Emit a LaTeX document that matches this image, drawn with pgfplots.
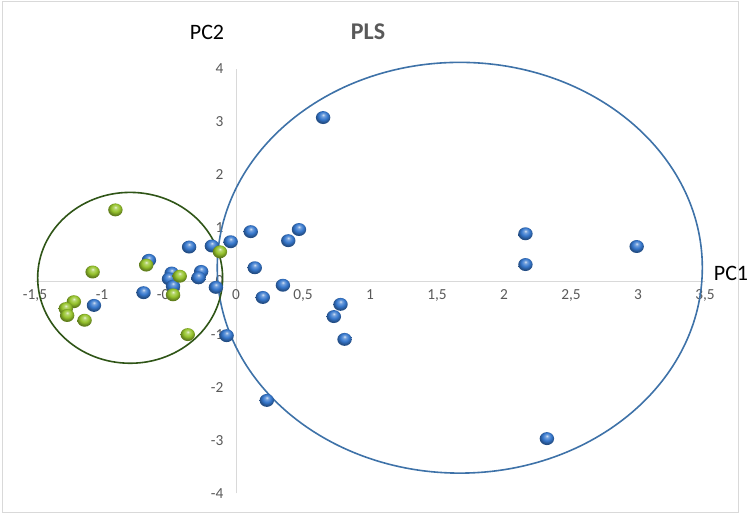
\documentclass[border=0pt]{standalone}
\usepackage{fontspec}
\setmainfont{Carlito}
\usepackage{pgfplots}
\pgfplotsset{compat=1.18}
\definecolor{axisgray}{RGB}{217,217,217}
\definecolor{labelgray}{RGB}{89,89,89}
\definecolor{ballblue}{RGB}{55,120,205}
\definecolor{ballgreen}{RGB}{150,195,45}
\definecolor{ellblue}{RGB}{62,114,168}
\definecolor{ellgreen}{RGB}{47,85,23}
\pgfdeclareradialshading{bshade}{\pgfqpoint{0bp}{11bp}}{color(0bp)=(ballblue!20!white); color(6bp)=(ballblue!70!white); color(15bp)=(ballblue); color(25bp)=(ballblue!65!black); color(50bp)=(ballblue!65!black)}
\pgfdeclareradialshading{gshade}{\pgfqpoint{0bp}{11bp}}{color(0bp)=(ballgreen!20!white); color(6bp)=(ballgreen!70!white); color(15bp)=(ballgreen); color(25bp)=(ballgreen!65!black); color(50bp)=(ballgreen!65!black)}
\pgfdeclareplotmark{bball}{\pgfpathcircle{\pgfpointorigin}{\pgfplotmarksize}\pgfshadepath{bshade}{0}\pgfusepath{discard}}
\pgfdeclareplotmark{gball}{\pgfpathcircle{\pgfpointorigin}{\pgfplotmarksize}\pgfshadepath{gshade}{0}\pgfusepath{discard}}
\begin{document}
\begin{tikzpicture}
\begin{axis}[
  at={(26.25pt,16.3pt)}, anchor=south west,
  x=100.5pt, y=39.8pt,
  xmin=-1.5, xmax=3.5, ymin=-4, ymax=4,
  axis lines=middle,
  axis line style={-, draw=axisgray, line width=0.75pt},
  xtick={-1.5,-1,-0.5,0,0.5,1,1.5,2,2.5,3,3.5},
  ytick={-4,-3,-2,-1,0,1,2,3,4},
  major tick length=0pt,
  hide obscured x ticks=false, hide obscured y ticks=false,
  tick label style={font=\fontsize{11.5}{13}\selectfont, text=labelgray},
  xticklabel style={yshift=-3pt},
  yticklabel style={xshift=-6pt},
  /pgf/number format/use comma,
  /pgf/number format/assume math mode=true,
  clip=false,
]
\addplot[only marks, mark=bball, mark size=5.4pt, mark options={yscale=0.9}] coordinates {
(0.65,3.08) (2.16,0.89) (2.99,0.65) (2.16,0.31) (2.32,-2.97)
(0.11,0.93) (0.47,0.97) (0.39,0.76) (-0.04,0.74) (0.14,0.25)
(0.20,-0.31) (0.35,-0.08) (0.78,-0.44) (0.73,-0.67) (0.81,-1.10)
(-0.07,-1.03) (0.23,-2.25) (-0.35,0.64) (-0.18,0.66) (-0.65,0.39)
(-0.48,0.15) (-0.50,0.04) (-0.47,-0.10) (-0.26,0.18) (-0.28,0.06)
(-0.15,-0.12) (-0.69,-0.22) (-1.06,-0.46)
};
\addplot[only marks, mark=gball, mark size=5.4pt, mark options={yscale=0.9}] coordinates {
(-0.90,1.34) (-1.07,0.17) (-0.67,0.30) (-0.42,0.09) (-0.47,-0.26)
(-0.12,0.55) (-1.21,-0.39) (-1.27,-0.52) (-1.26,-0.65) (-1.13,-0.74)
(-0.36,-1.01)
};
\draw[ellblue, line width=1.2pt] (axis cs:1.67,0.25) ellipse [x radius=1.81, y radius=3.87];
\draw[ellgreen, line width=1.2pt] (axis cs:-0.79,0.06) ellipse [x radius=0.69, y radius=1.61];
\end{axis}
\node[font=\fontsize{16.5}{18}\selectfont] at (155.25pt,362.25pt) {PC2};
\node[font=\fontsize{18}{20}\bfseries\selectfont, text=labelgray] at (276pt,362.25pt) {PLS};
\node[font=\fontsize{16.5}{18}\selectfont] at (548.25pt,181.5pt) {PC1};
\draw[axisgray, line width=0.75pt] (1.5pt,2.25pt) rectangle (553.5pt,384.75pt);
\pgfresetboundingbox
\path[use as bounding box] (0,0) rectangle (561.75pt,386.25pt);
\end{tikzpicture}
\end{document}
